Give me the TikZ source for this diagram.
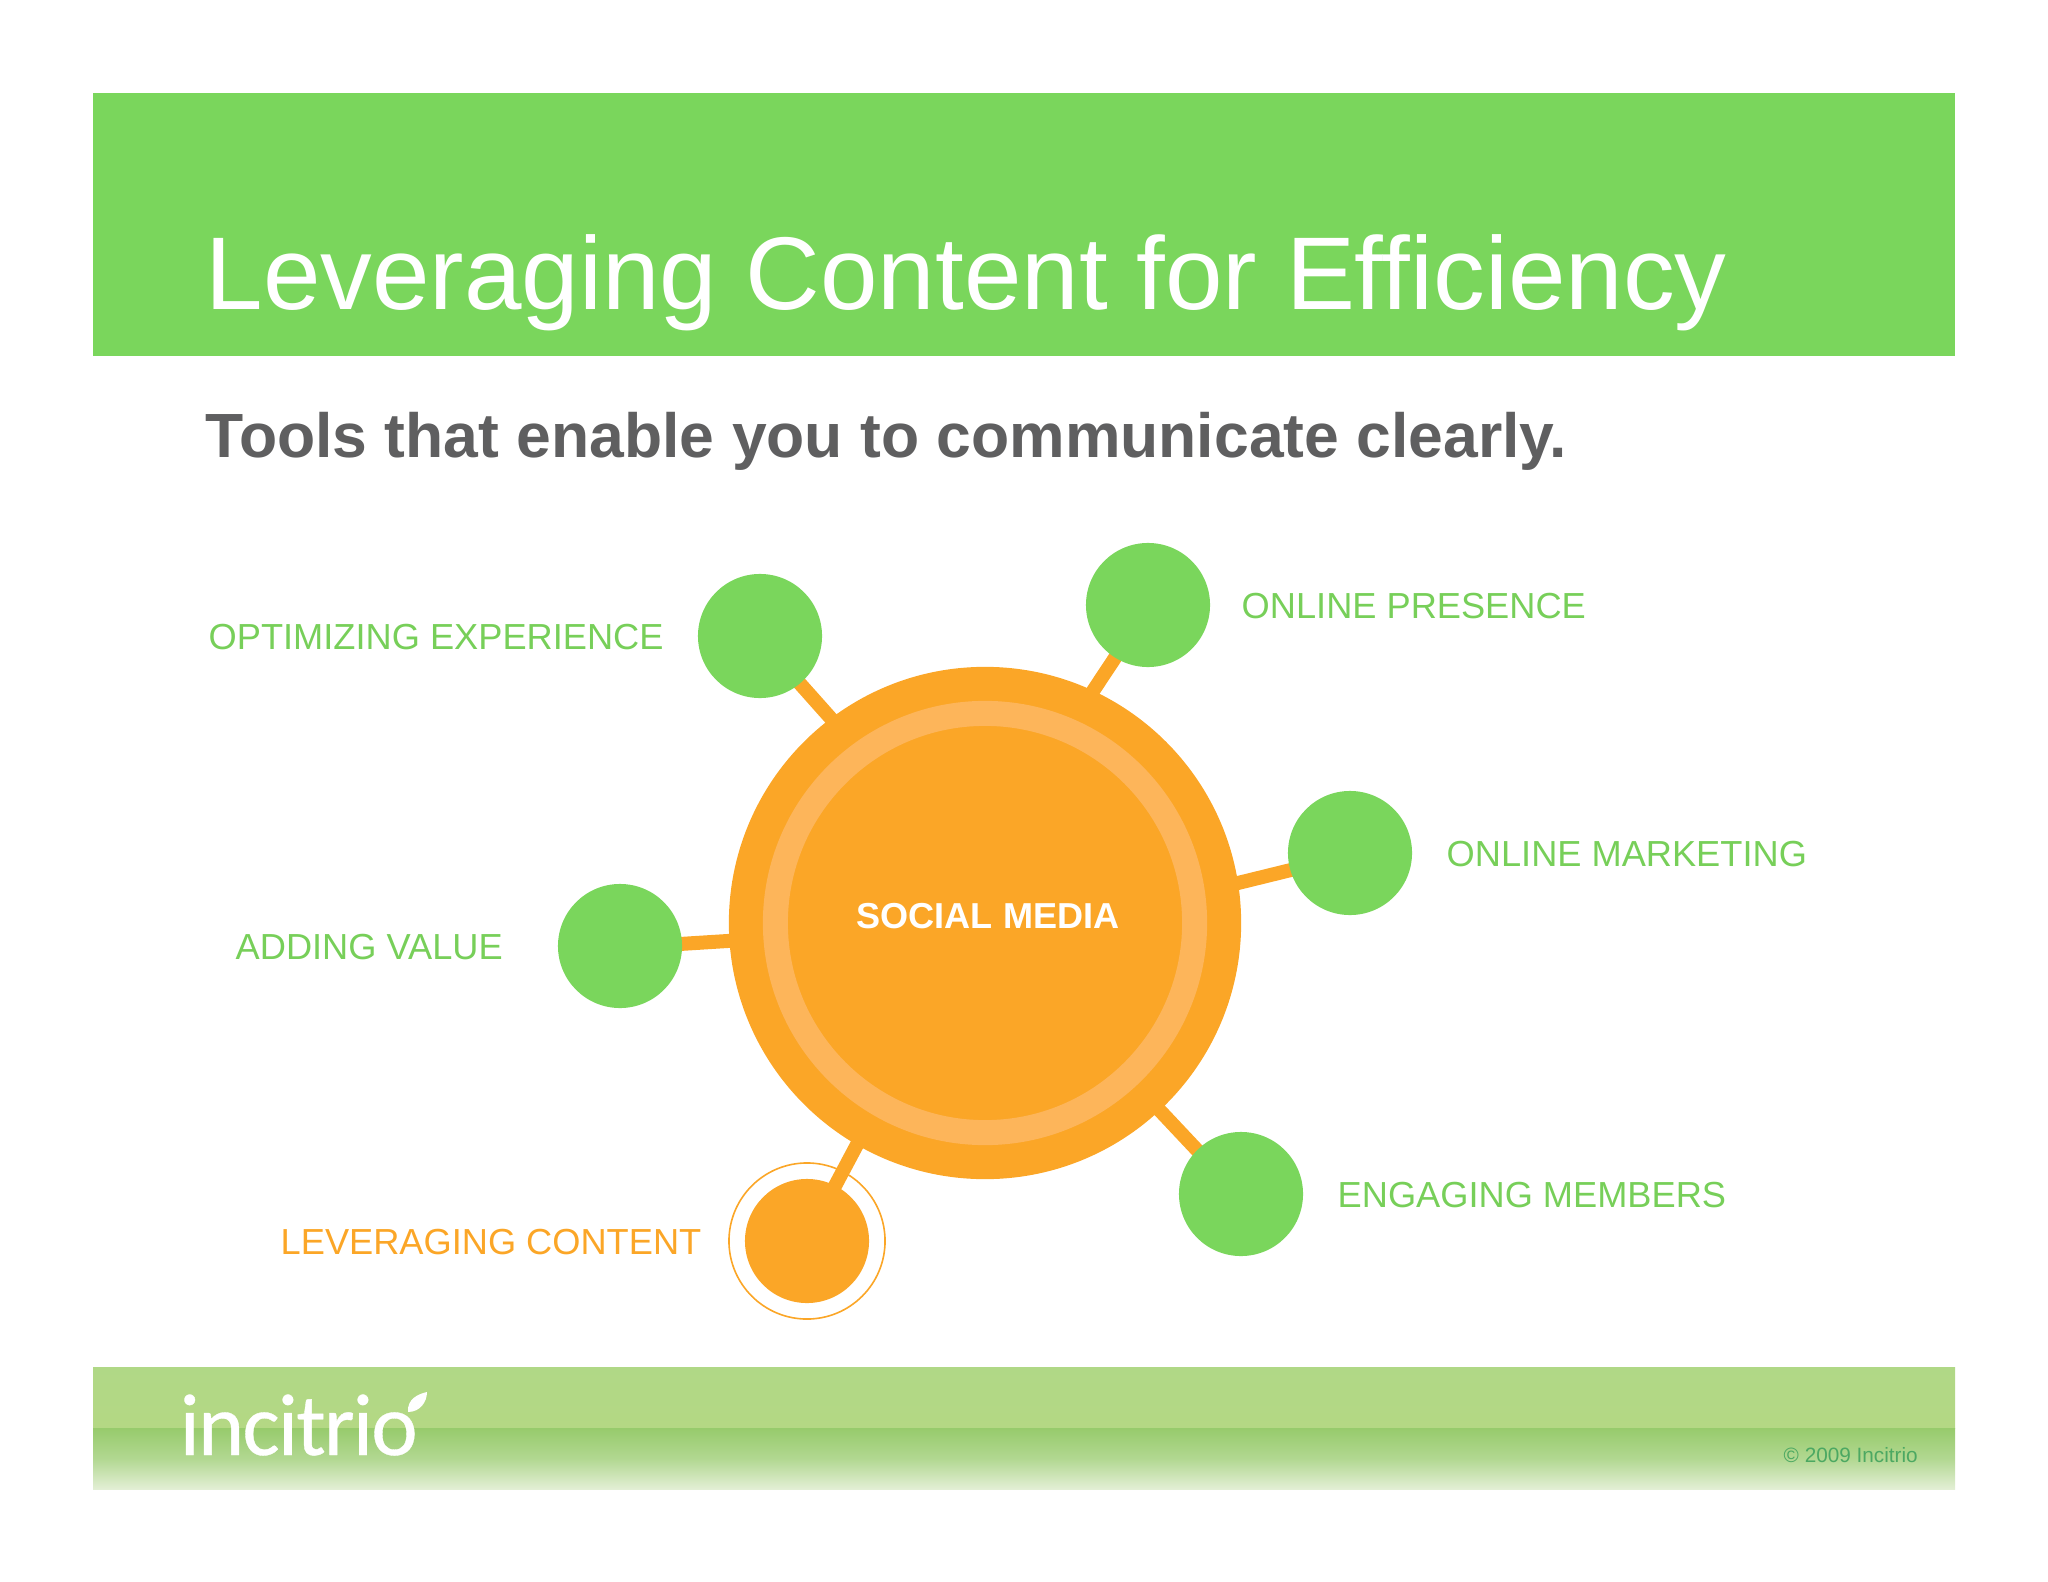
\documentclass[tikz,border=0pt]{standalone}
\usepackage{fontspec}
\setmainfont[Ligatures=NoCommon]{Liberation Sans}
\newfontfamily\logofont[LetterSpace=-2,FakeBold=0.4]{Carlito}
\usetikzlibrary{backgrounds}
\definecolor{leafgreen}{HTML}{7AD65C}
\definecolor{labelgreen}{HTML}{77CF59}
\definecolor{sunorange}{HTML}{FBA627}
\definecolor{ringorange}{HTML}{FDB55A}
\definecolor{subgray}{HTML}{5F5F60}
\definecolor{barlight}{HTML}{B0D886}
\definecolor{barlow}{HTML}{B4D884}
\definecolor{barmid}{HTML}{97CB6C}
\definecolor{barfade}{HTML}{E3EFD5}
\definecolor{copygreen}{HTML}{4CA862}

\begin{document}
\begin{tikzpicture}[x=0.01cm,y=-0.01cm,
  topic/.style={circle,fill=leafgreen,minimum size=1.24cm,inner sep=0pt},
  topiclabel/.style={anchor=base west,inner sep=0pt,text=labelgreen,font=\fontsize{10.3pt}{12pt}\selectfont},
  spoke/.style={line width=0.14cm,draw=sunorange,shorten <=-3pt,shorten >=-3pt}]
  \useasboundingbox (0,0) rectangle (2048,1582);
  \fill[leafgreen] (93,93) rectangle (1955,356);
  \shade[top color=barlight,bottom color=barlow] (93,1367) rectangle (1955,1428);
  \shade[top color=barmid,bottom color=barfade,middle color=barmid!65!barfade] (93,1428) rectangle (1955,1489);

  \node[anchor=base west,inner sep=0pt,text=white,font=\fontsize{29.4pt}{34pt}\selectfont] (title) at (205,309) {Leveraging Content for Efficiency};
  \node[anchor=base west,inner sep=0pt,text=subgray,font=\fontsize{17.76pt}{21pt}\selectfont\bfseries] (subtitle) at (205,457) {Tools that enable you to communicate clearly.};

  \node[circle,fill=sunorange,minimum size=5.12cm,inner sep=0pt] (social) at (985,923) {};
  \node[circle,draw=ringorange,line width=0.25cm,minimum size=4.19cm,inner sep=0pt] (ring) at (985,923) {};
  \node[inner sep=0pt,text=white,font=\fontsize{10.26pt}{12pt}\selectfont\bfseries] (sociallabel) at (988,916) {SOCIAL MEDIA};

  \node[topic] (optimizing) at (760,636) {};
  \node[topic] (presence) at (1148,605) {};
  \node[topic] (marketing) at (1350,853) {};
  \node[topic] (engaging) at (1241,1194) {};
  \node[topic] (adding) at (620,946) {};
  \node[topic,fill=sunorange] (leveraging) at (807,1241) {};
  \node[circle,draw=sunorange,line width=0.016cm,minimum size=1.56cm,inner sep=0pt] (halo) at (807,1241) {};

  \begin{pgfonlayer}{background}
    \draw[spoke] (optimizing.310) -- (social.127);
    \draw[spoke] (presence.238) -- (social.65);
    \draw[spoke] (marketing.196) -- (social.9);
    \draw[spoke] (engaging.135) -- (social.313);
    \draw[spoke] (leveraging.63) -- (social.240);
    \draw[spoke] (adding.2) -- (social.184);
  \end{pgfonlayer}

  \node[topiclabel] (optimizinglabel) at (208,649) {OPTIMIZING EXPERIENCE};
  \node[topiclabel] (presencelabel) at (1241,618) {ONLINE PRESENCE};
  \node[topiclabel] (marketinglabel) at (1446,866) {ONLINE MARKETING};
  \node[topiclabel] (engaginglabel) at (1337,1207) {ENGAGING MEMBERS};
  \node[topiclabel] (addinglabel) at (235,959) {ADDING VALUE};
  \node[topiclabel,text=sunorange] (leveraginglabel) at (280,1254) {LEVERAGING CONTENT};

  \node[anchor=base west,inner sep=0pt,text=white,font=\logofont\fontsize{25pt}{30pt}\selectfont] (logo) at (179,1455) {incitrio};
  \fill[white] (408,1412) .. controls (407,1399) and (418,1394) .. (427,1392) .. controls (427,1402) and (420,1412) .. (408,1412);
  \node[anchor=base west,inner sep=0pt,text=copygreen,font=\fontsize{5.9pt}{7pt}\selectfont] (copyright) at (1783,1462) {© 2009 Incitrio};
\end{tikzpicture}
\end{document}
